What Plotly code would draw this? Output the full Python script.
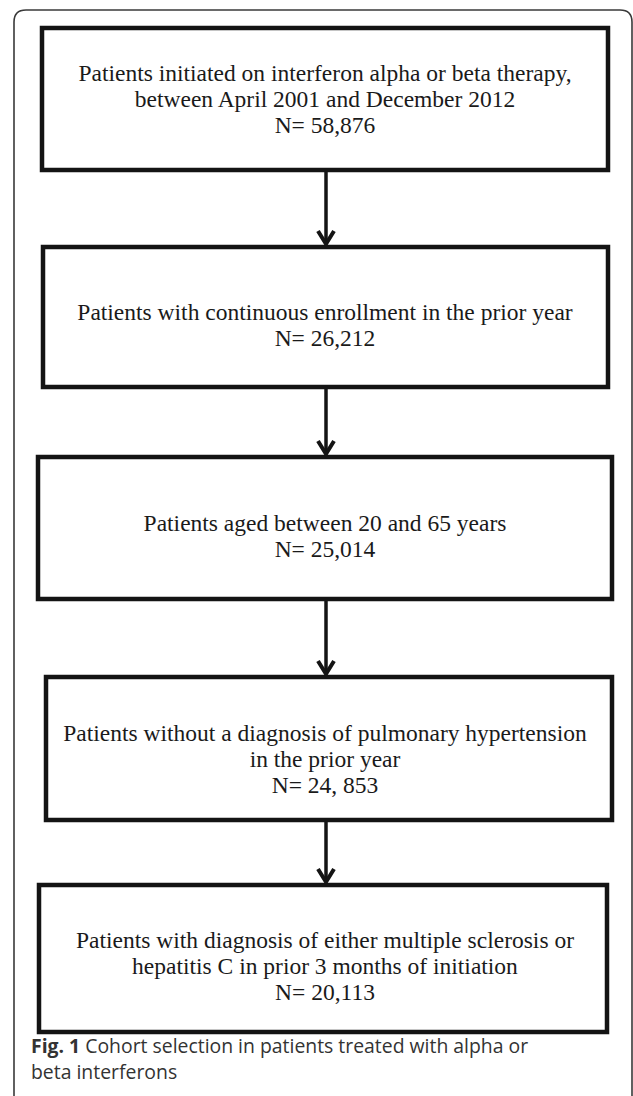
import plotly.graph_objects as go

# ---- content ----
box_lines = [
    ["Patients initiated on interferon alpha or beta therapy,",
     "between April 2001 and December 2012",
     "N= 58,876"],
    ["Patients with continuous enrollment in the prior year",
     "N= 26,212"],
    ["Patients aged between 20 and 65 years",
     "N= 25,014"],
    ["Patients without a diagnosis of pulmonary hypertension",
     "in the prior year",
     "N= 24, 853"],
    ["Patients with diagnosis of either multiple sclerosis or",
     "hepatitis C in prior 3 months of initiation",
     "N= 20,113"],
]
caption_label = "Fig. 1"
caption_lines = ["Cohort selection in patients treated with alpha or",
                 "beta interferons"]

# ---- layout geometry (pixels) ----
W, H = 633, 1096
box_geom = [  # x0, x1, y0, y1, text centre y
    (42, 608, 28, 170, 101),
    (43, 608, 247, 387, 327),
    (38, 612, 457, 599, 538),
    (46, 612, 677, 820, 761),
    (39, 607, 885, 1032, 968),
]
line_gap = 26
arrow_x = 326
text_x = 325

fig = go.Figure()
shapes = []

# outer rounded frame
r = 12
shapes.append(dict(
    type="path",
    path=f"M 14,{H+5} L 14,{10+r} Q 14,10 {14+r},10 L {W-1-r},10 Q {W-1},10 {W-1},{10+r} L {W-1},{H+5}",
    line=dict(color="#3a3a3a", width=1.6), xref="x", yref="y", layer="below"))

for (x0, x1, y0, y1, cy), lines in zip(box_geom, box_lines):
    shapes.append(dict(type="rect", x0=x0, x1=x1, y0=y0, y1=y1,
                       line=dict(color="#141414", width=4.5), xref="x", yref="y"))
    n = len(lines)
    ys = [cy + (i - (n - 1) / 2) * line_gap for i in range(n)]
    fig.add_trace(go.Scatter(
        x=[text_x] * n, y=ys, text=lines, mode="text",
        textfont=dict(family="Liberation Serif", size=23.5, color="#1a1a1a"),
        textposition="middle center", hoverinfo="skip", showlegend=False))

# arrows between boxes
for a, b in zip(box_geom[:-1], box_geom[1:]):
    y_start = a[3]
    y_tip = b[2] - 3
    shapes.append(dict(type="line", x0=arrow_x, x1=arrow_x, y0=y_start, y1=y_tip - 2,
                       line=dict(color="#141414", width=3.5), xref="x", yref="y"))
    shapes.append(dict(type="path",
                       path=f"M {arrow_x-8},{y_tip-13} L {arrow_x},{y_tip} L {arrow_x+8},{y_tip-13}",
                       line=dict(color="#141414", width=4), xref="x", yref="y"))

# caption
fig.add_annotation(x=29, y=1045, xref="x", yref="y", xanchor="left", yanchor="middle",
                   text=f"<b>{caption_label}</b> {caption_lines[0]}", showarrow=False,
                   font=dict(family="Open Sans", size=19.4, color="#333333"))
fig.add_annotation(x=29, y=1071, xref="x", yref="y", xanchor="left", yanchor="middle",
                   text=caption_lines[1], showarrow=False,
                   font=dict(family="Open Sans", size=19.4, color="#333333"))

fig.update_layout(
    width=W, height=H, margin=dict(l=0, r=0, t=0, b=0),
    paper_bgcolor="white", plot_bgcolor="white", shapes=shapes,
    xaxis=dict(range=[0, W], visible=False, fixedrange=True),
    yaxis=dict(range=[H, 0], visible=False, fixedrange=True),
    showlegend=False,
)
fig.write_html("out.html", config={"displayModeBar": False},
               post_script="document.body.style.margin='0';document.body.style.overflow='hidden';")
